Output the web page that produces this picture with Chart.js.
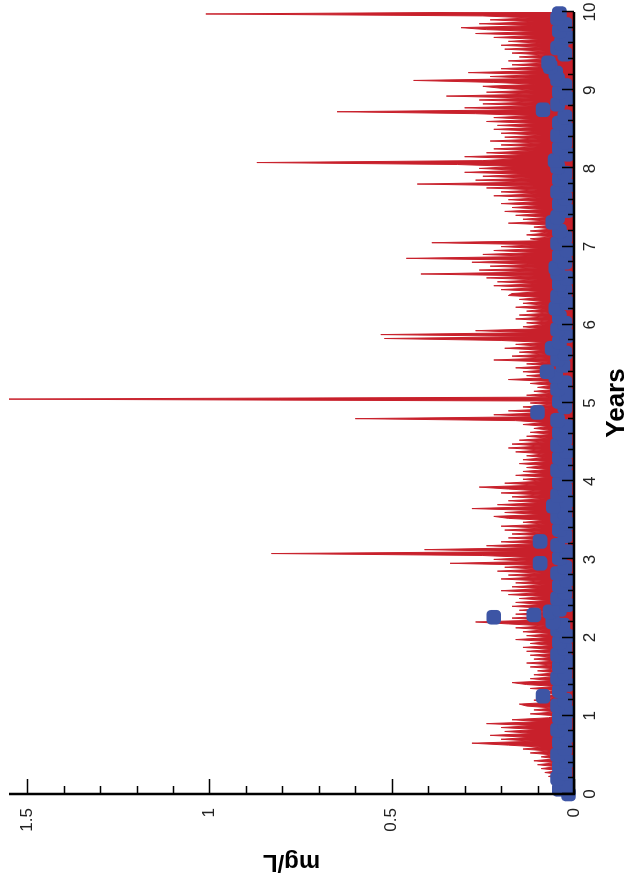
<!DOCTYPE html>
<html>
<head>
<meta charset="utf-8">
<script src="https://cdn.jsdelivr.net/npm/chart.js@4.4.1/dist/chart.umd.min.js"></script>
<style>
  html, body { margin: 0; padding: 0; background: #fff; }
  #wrap { position: relative; width: 626px; height: 890px; overflow: hidden; }
  /* chart is drawn landscape, then turned a quarter left like the reference */
  #chart { position: absolute; left: 0; top: 0; transform-origin: 0 0; transform: translateY(890px) rotate(-90deg); }
</style>
</head>
<body>
<div id="wrap"><canvas id="chart" width="890" height="626"></canvas></div>
<script>
// simulated concentration, one value every STEP years from 0 to 10
const STEP = 0.025;
const simConc = [
  // year 0
  0.02, 0.03, 0.02, 0.04, 0.02, 0.05, 0.03, 0.06, 0.03, 0.07,
  0.04, 0.08, 0.04, 0.09, 0.05, 0.10, 0.05, 0.11, 0.05, 0.09,
  0.06, 0.12, 0.07, 0.14, 0.09, 0.18, 0.28, 0.11, 0.20, 0.12,
  0.23, 0.11, 0.19, 0.10, 0.20, 0.11, 0.24, 0.09, 0.17, 0.07,
  // year 1
  0.05, 0.12, 0.05, 0.11, 0.06, 0.13, 0.15, 0.05, 0.11, 0.05,
  0.10, 0.04, 0.09, 0.05, 0.12, 0.05, 0.13, 0.17, 0.06, 0.12,
  0.05, 0.11, 0.05, 0.10, 0.05, 0.12, 0.06, 0.13, 0.05, 0.11,
  0.06, 0.12, 0.05, 0.13, 0.06, 0.14, 0.06, 0.12, 0.07, 0.16,
  // year 2
  0.07, 0.13, 0.06, 0.14, 0.08, 0.16, 0.08, 0.18, 0.27, 0.09,
  0.17, 0.08, 0.16, 0.07, 0.15, 0.08, 0.17, 0.09, 0.16, 0.07,
  0.15, 0.08, 0.18, 0.09, 0.20, 0.09, 0.17, 0.08, 0.16, 0.09,
  0.20, 0.10, 0.18, 0.09, 0.21, 0.10, 0.19, 0.10, 0.34, 0.11,
  // year 3
  0.22, 0.12, 0.25, 0.83, 0.13, 0.41, 0.12, 0.24, 0.10, 0.20,
  0.09, 0.18, 0.08, 0.17, 0.09, 0.19, 0.09, 0.20, 0.08, 0.14,
  0.08, 0.18, 0.22, 0.09, 0.19, 0.10, 0.28, 0.10, 0.21, 0.09,
  0.18, 0.08, 0.17, 0.09, 0.20, 0.09, 0.18, 0.26, 0.10, 0.19,
  // year 4
  0.09, 0.14, 0.07, 0.16, 0.08, 0.14, 0.07, 0.13, 0.08, 0.15,
  0.07, 0.14, 0.08, 0.13, 0.08, 0.16, 0.09, 0.18, 0.09, 0.17,
  0.08, 0.15, 0.07, 0.13, 0.06, 0.12, 0.06, 0.11, 0.07, 0.14,
  0.08, 0.16, 0.60, 0.09, 0.22, 0.08, 0.18, 0.07, 0.14, 0.06,
  // year 5
  0.12, 0.06, 1.60, 0.07, 0.13, 0.06, 0.11, 0.05, 0.10, 0.06,
  0.12, 0.06, 0.18, 0.07, 0.13, 0.06, 0.14, 0.07, 0.16, 0.07,
  0.13, 0.07, 0.22, 0.08, 0.17, 0.08, 0.15, 0.08, 0.19, 0.09,
  0.16, 0.08, 0.20, 0.52, 0.10, 0.53, 0.11, 0.27, 0.09, 0.14,
  // year 6
  0.08, 0.13, 0.07, 0.16, 0.08, 0.15, 0.07, 0.13, 0.08, 0.16,
  0.08, 0.14, 0.08, 0.15, 0.09, 0.18, 0.17, 0.09, 0.20, 0.10,
  0.22, 0.10, 0.21, 0.10, 0.24, 0.11, 0.42, 0.11, 0.26, 0.10,
  0.23, 0.11, 0.28, 0.12, 0.46, 0.11, 0.25, 0.10, 0.22, 0.09,
  // year 7
  0.20, 0.10, 0.39, 0.09, 0.12, 0.06, 0.13, 0.07, 0.12, 0.06,
  0.11, 0.06, 0.18, 0.07, 0.14, 0.07, 0.16, 0.08, 0.19, 0.08,
  0.17, 0.09, 0.20, 0.09, 0.18, 0.09, 0.22, 0.10, 0.20, 0.10,
  0.24, 0.11, 0.43, 0.12, 0.27, 0.12, 0.25, 0.13, 0.30, 0.15,
  // year 8
  0.26, 0.16, 0.32, 0.87, 0.25, 0.15, 0.30, 0.13, 0.24, 0.11,
  0.22, 0.10, 0.20, 0.09, 0.23, 0.10, 0.19, 0.09, 0.20, 0.10,
  0.22, 0.10, 0.21, 0.10, 0.24, 0.11, 0.22, 0.11, 0.27, 0.65,
  0.12, 0.30, 0.11, 0.25, 0.11, 0.26, 0.12, 0.35, 0.11, 0.24,
  // year 9
  0.11, 0.20, 0.25, 0.10, 0.22, 0.44, 0.10, 0.23, 0.09, 0.29,
  0.09, 0.20, 0.08, 0.17, 0.07, 0.18, 0.07, 0.15, 0.08, 0.17,
  0.08, 0.19, 0.09, 0.20, 0.09, 0.18, 0.09, 0.22, 0.10, 0.27,
  0.10, 0.24, 0.31, 0.11, 0.26, 0.11, 0.23, 0.12, 0.25, 1.01,
  0.15
];

// observed samples
const obsYears = [
  0.00, 0.06, 0.13, 0.20, 0.27, 0.35, 0.42, 0.50, 0.58, 0.66,
  0.74, 0.82, 0.90, 0.98, 1.05, 1.13, 1.20, 1.25, 1.32, 1.40,
  1.48, 1.55, 1.63, 1.70, 1.78, 1.86, 1.94, 2.02, 2.10, 2.16,
  2.20, 2.26, 2.29, 2.33, 2.36, 2.42, 2.50, 2.58, 2.66, 2.74,
  2.82, 2.90, 2.95, 3.02, 3.10, 3.18, 3.23, 3.30, 3.38, 3.46,
  3.54, 3.60, 3.68, 3.75, 3.82, 3.90, 3.98, 4.06, 4.14, 4.22,
  4.30, 4.38, 4.46, 4.54, 4.62, 4.70, 4.78, 4.88, 4.95, 5.02,
  5.10, 5.18, 5.26, 5.34, 5.40, 5.48, 5.56, 5.64, 5.70, 5.78,
  5.86, 5.94, 6.02, 6.10, 6.21, 6.28, 6.36, 6.44, 6.52, 6.60,
  6.66, 6.73, 6.80, 6.88, 6.96, 7.04, 7.12, 7.20, 7.31, 7.38,
  7.46, 7.54, 7.62, 7.70, 7.78, 7.86, 7.94, 8.02, 8.10, 8.18,
  8.26, 8.34, 8.42, 8.50, 8.58, 8.66, 8.75, 8.82, 8.90, 8.98,
  9.06, 9.14, 9.22, 9.30, 9.35, 9.46, 9.54, 9.60, 9.68, 9.76,
  9.84, 9.92, 9.98
];
const obsConc = [
  0.015, 0.04, 0.02, 0.045, 0.025, 0.04, 0.02, 0.045, 0.025, 0.04,
  0.02, 0.045, 0.025, 0.04, 0.02, 0.045, 0.025, 0.085, 0.04, 0.02,
  0.045, 0.025, 0.04, 0.02, 0.045, 0.025, 0.04, 0.02, 0.045, 0.03,
  0.058, 0.22, 0.11, 0.066, 0.04, 0.02, 0.045, 0.025, 0.04, 0.02,
  0.045, 0.025, 0.093, 0.04, 0.02, 0.045, 0.093, 0.025, 0.04, 0.02,
  0.045, 0.025, 0.057, 0.02, 0.045, 0.025, 0.04, 0.02, 0.045, 0.025,
  0.04, 0.02, 0.045, 0.025, 0.04, 0.02, 0.045, 0.10, 0.025, 0.04,
  0.02, 0.045, 0.025, 0.05, 0.074, 0.03, 0.045, 0.025, 0.06, 0.04,
  0.02, 0.045, 0.025, 0.04, 0.05, 0.02, 0.045, 0.025, 0.04, 0.02,
  0.045, 0.05, 0.025, 0.04, 0.02, 0.045, 0.025, 0.04, 0.058, 0.045,
  0.02, 0.04, 0.025, 0.045, 0.02, 0.04, 0.025, 0.045, 0.052, 0.02,
  0.04, 0.025, 0.045, 0.02, 0.04, 0.025, 0.085, 0.045, 0.02, 0.04,
  0.025, 0.045, 0.05, 0.065, 0.07, 0.025, 0.045, 0.035, 0.02, 0.04,
  0.025, 0.045, 0.04
];

const yearTicks = [0, 1, 2, 3, 4, 5, 6, 7, 8, 9, 10];
const concTicks = [0, 0.5, 1, 1.5];

const RED = '#C8202B';
const BLUE = '#3D55A5';
const FONT = "'Liberation Sans', Arial, sans-serif";

const simPoints = simConc.map((v, i) => ({ x: +(i * STEP).toFixed(3), y: v }));
const obsPoints = obsYears.map((t, i) => ({ x: t, y: obsConc[i] }));

// inward tick marks + axis lines, the way the original plot draws them
const axisPlugin = {
  id: 'tecAxes',
  afterDraw(chart) {
    const { ctx, scales: { x, y } } = chart;
    const x0 = x.getPixelForValue(0), x10 = x.getPixelForValue(10);
    const y0 = y.getPixelForValue(0), yTop = y.getPixelForValue(1.55);
    ctx.save();
    ctx.strokeStyle = '#000';
    ctx.lineWidth = 1.5;
    ctx.beginPath();
    for (let i = 0; i <= 50; i++) {
      const px = Math.round(x.getPixelForValue(i * 0.2)) + 0.5;
      const len = i % 5 === 0 ? 12 : 6;
      ctx.moveTo(px, y0); ctx.lineTo(px, y0 - len);
    }
    for (let i = 0; i <= 15; i++) {
      const py = Math.round(y.getPixelForValue(i * 0.1)) + 0.5;
      const len = i % 5 === 0 ? 15 : 8;
      ctx.moveTo(x0, py); ctx.lineTo(x0 + len, py);
    }
    ctx.stroke();
    ctx.lineWidth = 2.5;
    ctx.beginPath();
    ctx.moveTo(x10, y0); ctx.lineTo(x0, y0); ctx.lineTo(x0, yTop);
    ctx.stroke();
    ctx.restore();
  }
};

function noPad(s) {
  s.paddingTop = 0; s.paddingBottom = 0; s.paddingLeft = 0; s.paddingRight = 0;
}

new Chart(document.getElementById('chart'), {
  type: 'scatter',
  data: {
    datasets: [
      {
        label: 'Observed',
        data: obsPoints,
        pointStyle: 'rectRounded',
        pointRadius: 8.5,
        backgroundColor: BLUE,
        borderColor: BLUE,
        borderWidth: 0,
        clip: false
      },
      {
        label: 'Simulated',
        data: simPoints,
        showLine: true,
        pointRadius: 0,
        borderColor: RED,
        backgroundColor: RED,
        borderWidth: 1,
        tension: 0,
        fill: 'origin'
      }
    ]
  },
  options: {
    responsive: false,
    animation: false,
    devicePixelRatio: 1,
    layout: { padding: { left: 0, right: 12, top: 9, bottom: 0 } },
    plugins: { legend: { display: false }, tooltip: { enabled: false } },
    scales: {
      x: {
        type: 'linear', min: 0, max: 10,
        grid: { display: false, drawTicks: false },
        border: { display: false },
        afterBuildTicks: s => { s.ticks = yearTicks.map(v => ({ value: v })); },
        afterFit: s => { s.height = 52; noPad(s); },
        ticks: { padding: 6, color: '#222', font: { family: FONT, size: 17 }, maxRotation: 0 },
        title: { display: true, text: 'Years', color: '#000',
                 font: { family: FONT, size: 26, weight: 'bold' }, padding: { top: 0, bottom: -6 } }
      },
      y: {
        type: 'linear', min: 0, max: 1.55,
        grid: { display: false, drawTicks: false },
        border: { display: false },
        afterBuildTicks: s => { s.ticks = concTicks.map(v => ({ value: v })); },
        afterFit: s => { s.width = 96; noPad(s); },
        ticks: { padding: 14, color: '#222', font: { family: FONT, size: 17 }, callback: v => String(v) },
        title: { display: true, text: 'mg/L', color: '#000',
                 font: { family: FONT, size: 24, weight: 'bold' }, padding: { top: 14, bottom: 0 } }
      }
    }
  },
  plugins: [axisPlugin]
});
</script>
</body>
</html>
